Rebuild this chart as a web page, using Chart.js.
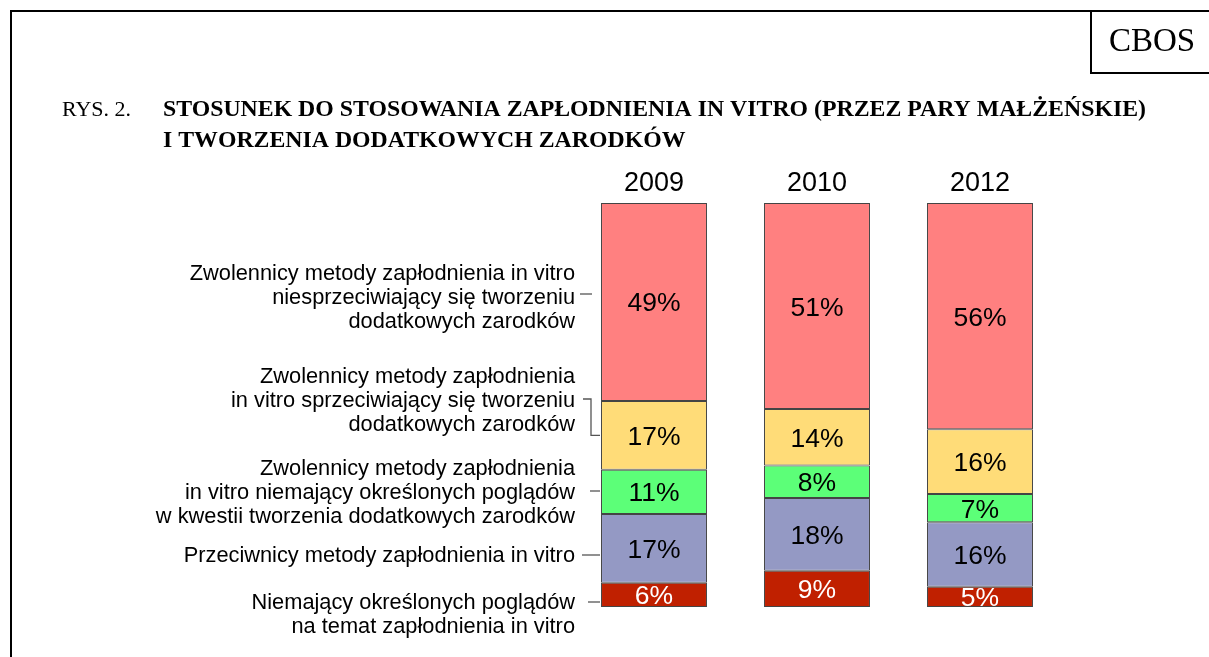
<!DOCTYPE html>
<html>
<head>
<meta charset="utf-8">
<script src="https://cdn.jsdelivr.net/npm/chart.js@4/dist/chart.umd.min.js"></script>
<style>
html,body{margin:0;padding:0;background:#fff;}
#wrap{position:relative;width:1209px;height:657px;}
canvas{display:block;}
</style>
</head>
<body>
<div id="wrap"><canvas id="c" width="1209" height="657"></canvas></div>
<script>
// ---- data ----
const years = ['2009', '2010', '2012'];
const undecided = [6, 9, 5];               // Niemający określonych poglądów
const opponents = [17, 18, 16];            // Przeciwnicy
const supportersNoView = [11, 8, 7];       // Zwolennicy ... niemający określonych poglądów
const supportersAgainstExtra = [17, 14, 16]; // Zwolennicy ... sprzeciwiający się
const supportersForExtra = [49, 51, 56];   // Zwolennicy ... niesprzeciwiający się

const seriesLabels = [
  ['Niemający określonych poglądów', 'na temat zapłodnienia in vitro'],
  ['Przeciwnicy metody zapłodnienia in vitro'],
  ['Zwolennicy metody zapłodnienia', 'in vitro niemający określonych poglądów', 'w kwestii tworzenia dodatkowych zarodków'],
  ['Zwolennicy metody zapłodnienia', 'in vitro sprzeciwiający się tworzeniu', 'dodatkowych zarodków'],
  ['Zwolennicy metody zapłodnienia in vitro', 'niesprzeciwiający się tworzeniu', 'dodatkowych zarodków']
];
const seriesColors = ['#C02000', '#9499C4', '#5CFF78', '#FFDC78', '#FF8080'];
const valueColors = ['#ffffff', '#000000', '#000000', '#000000', '#000000'];

const titleLines = ['STOSUNEK DO STOSOWANIA ZAPŁODNIENIA IN VITRO (PRZEZ PARY MAŁŻEŃSKIE)', 'I TWORZENIA DODATKOWYCH ZARODKÓW'];

const SANS = '"Liberation Sans", Arial, sans-serif';
const SERIF = '"Liberation Serif", "Times New Roman", serif';

// left-side label layout: first line centre y and connector description
const labelLayout = [
  {y: 601, kind: 'dash', lineY: 602, x1: 588, x2: 600},
  {y: 554, kind: 'dash', lineY: 555, x1: 582, x2: 600},
  {y: 467, kind: 'dash', lineY: 491, x1: 590, x2: 600},
  {y: 375, kind: 'bracket', lineY: 399, x1: 583, xm: 591, x2: 600},
  {y: 272, kind: 'dash', lineY: 294, x1: 580, x2: 592}
];

const overlay = {
  id: 'overlay',
  afterDraw(chart) {
    const ctx = chart.ctx;
    ctx.save();
    // frame
    ctx.strokeStyle = '#000';
    ctx.lineWidth = 2;
    ctx.beginPath();
    ctx.moveTo(11, 657); ctx.lineTo(11, 11); ctx.lineTo(1209, 11);
    ctx.moveTo(1091, 11); ctx.lineTo(1091, 73); ctx.lineTo(1209, 73);
    ctx.stroke();
    // CBOS
    ctx.fillStyle = '#000';
    ctx.font = '33px ' + SERIF;
    ctx.textAlign = 'center';
    ctx.textBaseline = 'alphabetic';
    ctx.fillText('CBOS', 1152, 51);
    // title
    ctx.textAlign = 'left';
    ctx.font = '22px ' + SERIF;
    ctx.fillText('RYS. 2.', 62, 116);
    ctx.font = 'bold 23.8px ' + SERIF;
    ctx.fillText(titleLines[0], 163, 116);
    ctx.fillText(titleLines[1], 163, 147);
    // series labels on the left
    ctx.font = '21.8px ' + SANS;
    ctx.textAlign = 'right';
    seriesLabels.forEach((lines, i) => {
      const L = labelLayout[i];
      lines.forEach((t, j) => ctx.fillText(t, 575, L.y + j * 24.3 + 7.5));
    });
    // connectors
    ctx.strokeStyle = '#555';
    ctx.lineWidth = 1.3;
    labelLayout.forEach((L, i) => {
      ctx.beginPath();
      if (L.kind === 'bracket') {
        const meta = chart.getDatasetMeta(i);
        const el = meta.data[0];
        const cy = (el.y + el.base) / 2;
        ctx.moveTo(L.x1, L.lineY); ctx.lineTo(L.xm, L.lineY); ctx.lineTo(L.xm, cy); ctx.lineTo(L.x2, cy);
      } else {
        ctx.moveTo(L.x1, L.lineY); ctx.lineTo(L.x2, L.lineY);
      }
      ctx.stroke();
    });
    // value labels
    ctx.textAlign = 'center';
    ctx.font = '26.5px ' + SANS;
    chart.data.datasets.forEach((ds, i) => {
      const meta = chart.getDatasetMeta(i);
      meta.data.forEach((el, k) => {
        const cy = (el.y + el.base) / 2;
        ctx.fillStyle = valueColors[i];
        ctx.fillText(ds.data[k] + '%', el.x, cy + 9.5);
      });
    });
    ctx.restore();
  }
};

const seriesData = [undecided, opponents, supportersNoView, supportersAgainstExtra, supportersForExtra];

new Chart(document.getElementById('c'), {
  type: 'bar',
  data: {
    labels: years,
    datasets: seriesData.map((d, i) => ({
      data: d,
      backgroundColor: seriesColors[i],
      borderColor: '#444',
      borderWidth: 1,
      borderSkipped: false,
      categoryPercentage: 0.65,
      barPercentage: 1.0
    }))
  },
  options: {
    responsive: false,
    animation: false,
    events: [],
    layout: {padding: {left: 572.5, right: 147.5, top: 150, bottom: 50}},
    plugins: {legend: {display: false}, tooltip: {enabled: false}, title: {display: false}},
    scales: {
      x: {
        stacked: true,
        position: 'top',
        grid: {display: false, drawTicks: false},
        border: {display: false},
        ticks: {color: '#000', font: {family: SANS, size: 27}, padding: 3},
        afterFit(s) { s.height = 53; }
      },
      y: {
        stacked: true,
        display: false,
        min: 0,
        max: 100
      }
    }
  },
  plugins: [overlay]
});
</script>
</body>
</html>
